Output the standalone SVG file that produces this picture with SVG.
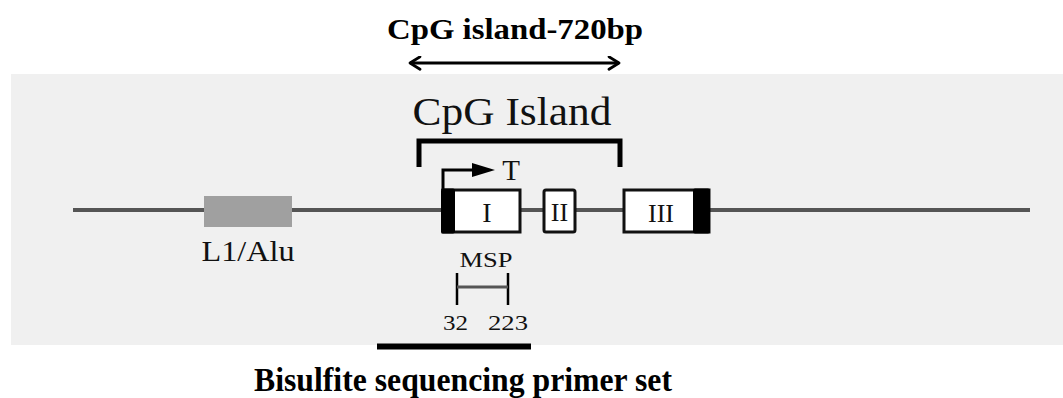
<svg xmlns="http://www.w3.org/2000/svg" width="1063" height="398" viewBox="0 0 1063 398">
<style>
.ser{font-family:"Liberation Serif","Times New Roman",serif;fill:#111}
.b{font-weight:bold;fill:#000}
.box{fill:#fff;stroke:#111;stroke-width:3}
.blk{fill:#000}
.ln{stroke:#555;stroke-width:4;fill:none}
.k{stroke:#000;fill:none}
</style>
<defs>
<marker id="chev" viewBox="0 0 12 12" refX="10" refY="6" markerWidth="5" markerHeight="5" orient="auto-start-reverse" markerUnits="strokeWidth">
<path d="M2,1 L10,6 L2,11" fill="none" stroke="#000" stroke-width="2.2" stroke-linecap="round" stroke-linejoin="round"/>
</marker>
</defs>
<rect id="bg" x="11" y="74" width="1052" height="271" fill="#f0f0f0"/>
<g id="title"><text class="ser b" x="515" y="39" font-size="30" text-anchor="middle" textLength="256" lengthAdjust="spacingAndGlyphs">CpG island-720bp</text></g>
<g id="connectors">
<line class="k" x1="410" y1="63" x2="619" y2="63" stroke-width="3" marker-start="url(#chev)" marker-end="url(#chev)"/>
<line class="ln" x1="73" y1="210" x2="1030" y2="210"/>
<path class="k" d="M419,167 V141 H620 V167" stroke-width="5"/>
<path class="k" d="M443,190 V170 H474" stroke-width="3"/>
<path d="M472,163 L495,170 L472,177 Z" fill="#000"/>
<path class="k" d="M457,273 V305 M508,273 V305" stroke-width="2.5" stroke="#222"/>
<line x1="457" y1="287" x2="508" y2="287" stroke="#555" stroke-width="3"/>
<line x1="377" y1="346.5" x2="531" y2="346.5" stroke="#000" stroke-width="6"/>
</g>
<g id="cpg-island-label"><text class="ser" x="512" y="125" font-size="41" text-anchor="middle" textLength="199" lengthAdjust="spacingAndGlyphs">CpG Island</text></g>
<g id="l1alu">
<rect x="204" y="196" width="88" height="31" fill="#a0a0a0"/>
<text class="ser" x="248" y="261" font-size="30" text-anchor="middle" textLength="93" lengthAdjust="spacingAndGlyphs">L1/Alu</text>
</g>
<g id="exon1">
<rect class="box" x="443" y="190" width="77" height="42"/>
<rect class="blk" x="441" y="188.5" width="14" height="45" rx="2"/>
<text class="ser" x="487" y="222" font-size="28" text-anchor="middle" fill="#333">I</text>
</g>
<g id="tss"><text class="ser" x="511" y="180" font-size="29" text-anchor="middle">T</text></g>
<g id="exon2">
<rect class="box" x="544" y="190" width="31" height="42" rx="2"/>
<text class="ser" x="559.5" y="221" font-size="26" text-anchor="middle" fill="#333">II</text>
</g>
<g id="exon3">
<rect class="box" x="624" y="190" width="85" height="42"/>
<rect class="blk" x="693" y="188.5" width="17" height="45" rx="2"/>
<text class="ser" x="661" y="222" font-size="26" text-anchor="middle">III</text>
</g>
<g id="msp">
<text class="ser" x="486" y="267" font-size="20" text-anchor="middle" textLength="53" lengthAdjust="spacingAndGlyphs">MSP</text>
<text class="ser" x="455.5" y="330" font-size="22" text-anchor="middle" textLength="25" lengthAdjust="spacingAndGlyphs">32</text>
<text class="ser" x="508" y="330" font-size="22" text-anchor="middle" textLength="40" lengthAdjust="spacingAndGlyphs">223</text>
</g>
<g id="bisulfite"><text class="ser b" x="463" y="391" font-size="33" text-anchor="middle" textLength="418" lengthAdjust="spacingAndGlyphs">Bisulfite sequencing primer set</text></g>
</svg>
